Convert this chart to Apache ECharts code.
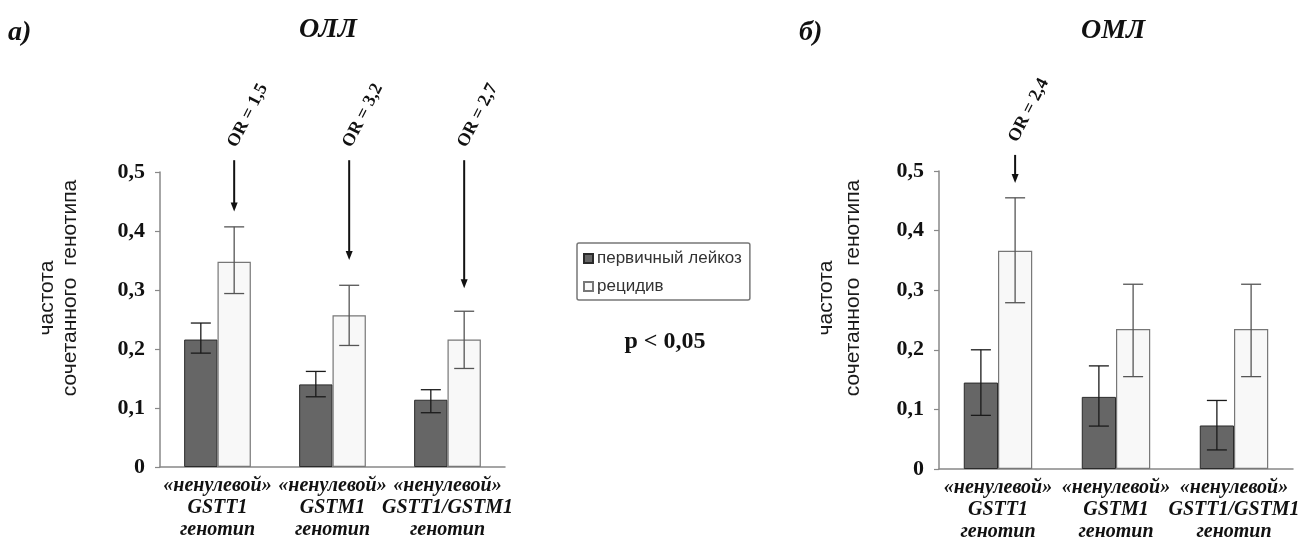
<!DOCTYPE html>
<html>
<head>
<meta charset="utf-8">
<script src="https://cdn.jsdelivr.net/npm/echarts@6/dist/echarts.min.js"></script>
<style>html,body{margin:0;padding:0;background:#fff}#c{width:1300px;height:539px}</style>
</head>
<body>
<div id="c"></div>
<script>
// ---- data ----
const categories = ['«ненулевой»\nGSTT1\nгенотип', '«ненулевой»\nGSTM1\nгенотип', '«ненулевой»\nGSTT1/GSTM1\nгенотип'];
const seriesNames = ['первичный лейкоз', 'рецидив'];
const yTickValues = [0, 0.1, 0.2, 0.3, 0.4, 0.5];

// ОЛЛ (left)
const allPrimary = [0.216, 0.140, 0.114];
const allPrimaryLow = [0.193, 0.119, 0.092];
const allPrimaryHigh = [0.244, 0.162, 0.131];
const allRelapse = [0.348, 0.257, 0.216];
const allRelapseLow = [0.294, 0.206, 0.167];
const allRelapseHigh = [0.407, 0.308, 0.264];
const allArrowCats = [0, 1, 2];
const allArrowFrom = [0.52, 0.52, 0.52];
const allArrowTo = [0.433, 0.351, 0.303];
const allOR = ['OR = 1,5', 'OR = 3,2', 'OR = 2,7'];

// ОМЛ (right)
const amlPrimary = [0.145, 0.121, 0.073];
const amlPrimaryLow = [0.090, 0.072, 0.032];
const amlPrimaryHigh = [0.200, 0.173, 0.115];
const amlRelapse = [0.366, 0.235, 0.235];
const amlRelapseLow = [0.279, 0.155, 0.155];
const amlRelapseHigh = [0.455, 0.310, 0.310];
const amlArrowCats = [0];
const amlArrowFrom = [0.527];
const amlArrowTo = [0.48];
const amlOR = ['OR = 2,4'];

// ---- helpers ----
const BAR_FRAC = 0.29;
const SERIF = '"Liberation Serif", "Times New Roman", serif';
const SANS = '"Liberation Sans", Arial, sans-serif';

function errData(low, high, side) {
  return low.map((l, i) => [i, l, high[i], side]);
}
function errorRender(params, api) {
  const cat = api.value(0), lo = api.value(1), hi = api.value(2), side = api.value(3);
  const band = api.size([1, 0])[0];
  const x = api.coord([cat, lo])[0] + side * band * BAR_FRAC / 2;
  const yLo = api.coord([cat, lo])[1], yHi = api.coord([cat, hi])[1];
  const cap = 10;
  const st = { stroke: side < 0 ? '#1a1a1a' : '#555', lineWidth: 1.3 };
  return { type: 'group', children: [
    { type: 'line', shape: { x1: x, y1: yHi, x2: x, y2: yLo }, style: st },
    { type: 'line', shape: { x1: x - cap, y1: yHi, x2: x + cap, y2: yHi }, style: st },
    { type: 'line', shape: { x1: x - cap, y1: yLo, x2: x + cap, y2: yLo }, style: st }
  ]};
}
function arrowData(cats, from, to) {
  return cats.map((c, i) => [c, from[i], to[i]]);
}
function makeArrowRender(labels) {
  return function (params, api) {
    const cat = api.value(0), from = api.value(1), to = api.value(2);
    const band = api.size([1, 0])[0];
    const x = api.coord([cat, from])[0] + band * BAR_FRAC / 2;
    const y1 = api.coord([cat, from])[1], y2 = api.coord([cat, to])[1];
    return { type: 'group', children: [
      { type: 'line', shape: { x1: x, y1: y1, x2: x, y2: y2 - 7 }, style: { stroke: '#111', lineWidth: 2 } },
      { type: 'polygon', shape: { points: [[x - 3.5, y2 - 9], [x + 3.5, y2 - 9], [x, y2]] }, style: { fill: '#111' } },
      { type: 'text', x: x - 2, y: y1 - 14, rotation: 63 * Math.PI / 180,
        style: { text: labels[params.dataIndex], font: 'bold 18px ' + SERIF, fill: '#111', align: 'left', verticalAlign: 'middle' } }
    ]};
  };
}
function yAxisCfg(gi) {
  return {
    type: 'value', gridIndex: gi, min: 0, max: 0.5, interval: 0.1,
    splitLine: { show: false },
    axisLine: { show: true, lineStyle: { color: '#888', width: 1.5 } },
    axisTick: { show: true, length: 5, lineStyle: { color: '#888', width: 1.2 } },
    axisLabel: {
      margin: 15, color: '#111', fontFamily: SERIF, fontWeight: 'bold', fontSize: 22,
      formatter: v => { const t = yTickValues.find(k => Math.abs(k - v) < 1e-9); return t === 0 ? '0' : String(+(t ?? v).toFixed(1)).replace('.', ','); }
    }
  };
}
function xAxisCfg(gi) {
  return {
    type: 'category', gridIndex: gi, data: categories,
    axisLine: { show: true, lineStyle: { color: '#888', width: 1.5 } },
    axisTick: { show: false },
    axisLabel: { interval: 0, margin: 8, color: '#111', fontFamily: SERIF, fontWeight: 'bold', fontStyle: 'italic', fontSize: 20, lineHeight: 22 }
  };
}
const darkStyle = { color: '#666', borderColor: '#2a2a2a', borderWidth: 1 };
const lightStyle = { color: '#f8f8f8', borderColor: '#777', borderWidth: 1.2 };

function barSeries(name, data, gi, style) {
  return { name: name, type: 'bar', xAxisIndex: gi, yAxisIndex: gi, data: data,
    barWidth: (BAR_FRAC * 100) + '%', barGap: '0%', itemStyle: style, z: 2 };
}

const chart = echarts.init(document.getElementById('c'), null, { renderer: 'canvas' });
chart.setOption({
  animation: false,
  backgroundColor: '#fff',
  grid: [
    { left: 160, top: 172, width: 345, height: 295, containLabel: false, outerBoundsMode: 'none' },
    { left: 939, top: 171, width: 354, height: 298, containLabel: false, outerBoundsMode: 'none' }
  ],
  xAxis: [xAxisCfg(0), xAxisCfg(1)],
  yAxis: [yAxisCfg(0), yAxisCfg(1)],
  legend: {
    data: seriesNames, orient: 'vertical', left: 577, top: 243,
    padding: [7, 8, 5, 6], itemGap: 11,
    borderColor: '#777', borderWidth: 1.5, borderRadius: 2,
    icon: 'rect', itemWidth: 9, itemHeight: 9,
    textStyle: { fontFamily: SANS, fontSize: 17, color: '#333', padding: [0, 0, 0, -1] },
    selectedMode: false
  },
  series: [
    barSeries(seriesNames[0], allPrimary, 0, darkStyle),
    barSeries(seriesNames[1], allRelapse, 0, lightStyle),
    barSeries(seriesNames[0], amlPrimary, 1, darkStyle),
    barSeries(seriesNames[1], amlRelapse, 1, lightStyle),
    { type: 'custom', xAxisIndex: 0, yAxisIndex: 0, data: errData(allPrimaryLow, allPrimaryHigh, -1), renderItem: errorRender, z: 4, clip: false, silent: true },
    { type: 'custom', xAxisIndex: 0, yAxisIndex: 0, data: errData(allRelapseLow, allRelapseHigh, 1), renderItem: errorRender, z: 4, clip: false, silent: true },
    { type: 'custom', xAxisIndex: 1, yAxisIndex: 1, data: errData(amlPrimaryLow, amlPrimaryHigh, -1), renderItem: errorRender, z: 4, clip: false, silent: true },
    { type: 'custom', xAxisIndex: 1, yAxisIndex: 1, data: errData(amlRelapseLow, amlRelapseHigh, 1), renderItem: errorRender, z: 4, clip: false, silent: true },
    { type: 'custom', xAxisIndex: 0, yAxisIndex: 0, data: arrowData(allArrowCats, allArrowFrom, allArrowTo), renderItem: makeArrowRender(allOR), z: 5, clip: false, silent: true },
    { type: 'custom', xAxisIndex: 1, yAxisIndex: 1, data: arrowData(amlArrowCats, amlArrowFrom, amlArrowTo), renderItem: makeArrowRender(amlOR), z: 5, clip: false, silent: true }
  ],
  graphic: [
    { type: 'text', left: 8, top: 19, style: { text: 'а)', font: 'italic bold 28px ' + SERIF, fill: '#111' } },
    { type: 'text', left: 299, top: 16, style: { text: 'ОЛЛ', font: 'italic bold 28px ' + SERIF, fill: '#111' } },
    { type: 'text', left: 799, top: 19, style: { text: 'б)', font: 'italic bold 28px ' + SERIF, fill: '#111' } },
    { type: 'text', left: 1081, top: 17, style: { text: 'ОМЛ', font: 'italic bold 28px ' + SERIF, fill: '#111' } },
    { type: 'text', x: 665, y: 342, style: { text: 'p < 0,05', font: 'bold 24px ' + SERIF, fill: '#111', align: 'center', verticalAlign: 'middle' } },
    { type: 'text', x: 47, y: 298, rotation: Math.PI / 2, style: { text: 'частота', font: '21px ' + SANS, fill: '#1a1a1a', align: 'center', verticalAlign: 'middle' } },
    { type: 'text', x: 70, y: 288, rotation: Math.PI / 2, style: { text: 'сочетанного  генотипа', font: '21px ' + SANS, fill: '#1a1a1a', align: 'center', verticalAlign: 'middle' } },
    { type: 'text', x: 826, y: 298, rotation: Math.PI / 2, style: { text: 'частота', font: '21px ' + SANS, fill: '#1a1a1a', align: 'center', verticalAlign: 'middle' } },
    { type: 'text', x: 853, y: 288, rotation: Math.PI / 2, style: { text: 'сочетанного  генотипа', font: '21px ' + SANS, fill: '#1a1a1a', align: 'center', verticalAlign: 'middle' } }
  ]
});
</script>
</body>
</html>
